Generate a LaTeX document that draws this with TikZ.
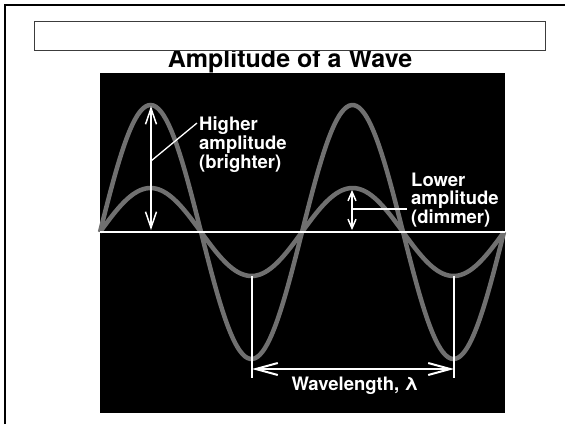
\documentclass[tikz,border=0pt]{standalone}
\usepackage{fontspec}
\setmainfont{TeX Gyre Heros}
\usetikzlibrary{arrows.meta}
\definecolor{wavegray}{RGB}{112,112,112}
\definecolor{boxgray}{RGB}{60,60,60}
\begin{document}
\begin{tikzpicture}[x=1pt,y=-1pt,font=\bfseries\fontsize{18.5}{17.5}\selectfont,
  wave/.style={wavegray,line width=4.5pt},
  label/.style={white,anchor=north west,inner sep=0pt,align=left},
  leader/.style={white,line width=1.3pt},
  tick/.style={white,line width=1.5pt},
  bigamp/.style={white,line width=1.5pt,{Straight Barb[length=16pt,width=11pt]}-{Straight Barb[length=16pt,width=11pt]}},
  smallamp/.style={white,line width=1.5pt,{Straight Barb[length=9pt,width=8pt]}-{Straight Barb[length=9pt,width=8pt]}},
  wlarrow/.style={white,line width=2pt,{Straight Barb[length=22pt,width=12pt]}-{Straight Barb[length=22pt,width=12pt]}}]
\useasboundingbox (0,0) rectangle (565,424);
\draw[line width=2.5pt] (5,424)--(5,5)--(565,5);
\node[font=\bfseries\fontsize{25}{26}\selectfont,anchor=base] (title) at (290,67.5) {Amplitude of a Wave};
\draw[fill=white,draw=boxgray,line width=1pt] (34,21) rectangle (545,50);
\fill[black] (100,73) rectangle (505,413);
% the two waves, one wavelength = 202
\foreach \amp in {127,44}{
 \draw[wave] plot[domain=100:504,samples=160,smooth] (\x,{232-\amp*sin((\x-100)/202*360)});
}
\coordinate (axisL) at (100,232);
\coordinate (axisR) at (505,232);
\draw[white,line width=2.5pt] (axisL)--(axisR);
% amplitudes
\coordinate (hitop) at (151,106);
\coordinate (hibot) at (151,230);
\coordinate (hilead) at (151,161);
\coordinate (lotop) at (352,190);
\coordinate (lobot) at (352,230);
\coordinate (lolead) at (352,209);
\draw[bigamp] (hitop)--(hibot);
\draw[smallamp] (lotop)--(lobot);
\node[label] (higher) at (199,117) {Higher\\amplitude\\(brighter)};
\node[label] (lower) at (411,173) {Lower\\amplitude\\(dimmer)};
\draw[leader] ([shift={(-2,6)}]higher.north west)--(hilead);
\draw[leader] ([shift={(-4,36)}]lower.north west)--(lolead);
% wavelength
\coordinate (troughA) at (252,276);
\coordinate (troughB) at (454,276);
\coordinate (footA) at (252,378);
\coordinate (footB) at (454,378);
\coordinate (wlA) at (252,369);
\coordinate (wlB) at (454,369);
\draw[tick] (troughA)--(footA);
\draw[tick] (troughB)--(footB);
\draw[wlarrow] (wlA)--(wlB);
\node[white,anchor=base] (wlength) at (355,390) {Wavelength, λ};
\end{tikzpicture}
\end{document}
